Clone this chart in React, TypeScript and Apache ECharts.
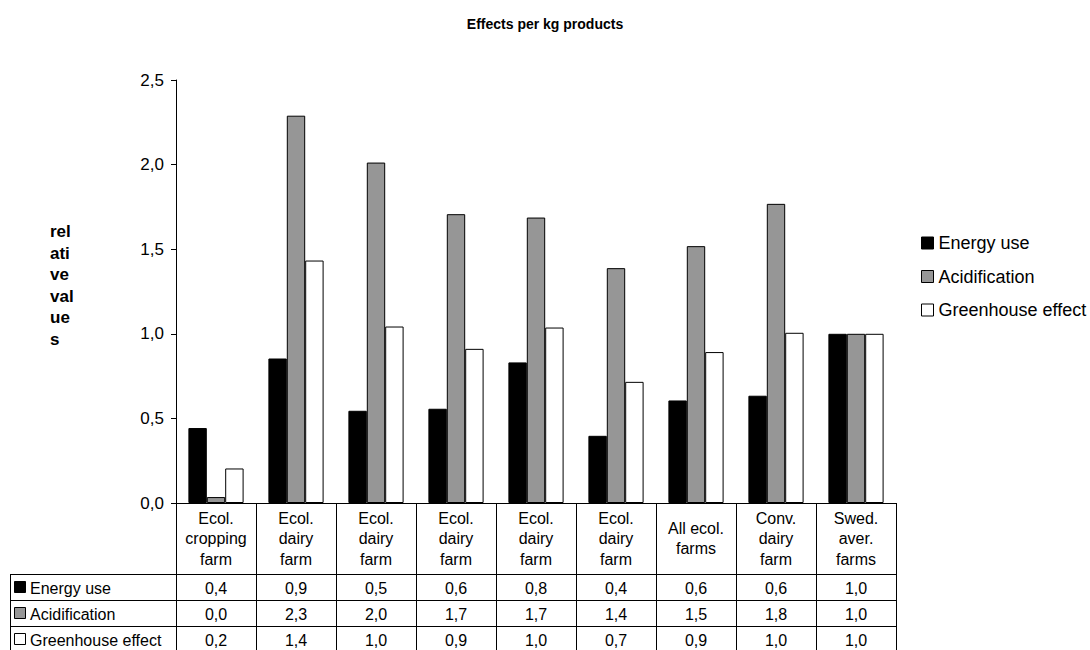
import React, { useEffect, useRef } from 'react';
import * as echarts from 'echarts';

// Farm categories (multi-line labels shown in the data table header)
const categories = [
  'Ecol.\ncropping\nfarm',
  'Ecol.\ndairy\nfarm',
  'Ecol.\ndairy\nfarm',
  'Ecol.\ndairy\nfarm',
  'Ecol.\ndairy\nfarm',
  'Ecol.\ndairy\nfarm',
  'All ecol.\nfarms',
  'Conv.\ndairy\nfarm',
  'Swed.\naver.\nfarms',
];

const seriesNames = ['Energy use', 'Acidification', 'Greenhouse effect'];

// Relative values per kg product (Swedish average = 1)
const energyUse = [0.443, 0.854, 0.545, 0.557, 0.831, 0.397, 0.606, 0.634, 1.0];
const acidification = [0.035, 2.289, 2.012, 1.707, 1.687, 1.388, 1.518, 1.768, 1.0];
const greenhouseEffect = [0.204, 1.433, 1.043, 0.911, 1.037, 0.716, 0.892, 1.006, 1.0];

// Value axis range
const yMin = 0;
const yMax = 2.5;
const yInterval = 0.5;

const seriesFills = ['#000000', '#969696', '#ffffff'];
const FONT = '"Liberation Sans", Arial, sans-serif';

const fmt = (v: number) => v.toFixed(1).replace('.', ',');

export default function App() {
  const ref = useRef<HTMLDivElement>(null);

  useEffect(() => {
    document.body.style.margin = '0';
    const chart = echarts.init(ref.current!, null, { renderer: 'svg' });

    const gridLeft = 176;
    const gridRight = 194;
    const gridTop = 80;
    const gridBottom = 147;
    const axisY = 650 - gridBottom;
    const headerH = 71;
    const rowH = 26;
    const tableBottom = axisY + headerH + rowH * 3;
    const tableLeft = 10;
    const tableRight = 1090 - gridRight;

    const seriesData = [energyUse, acidification, greenhouseEffect];

    chart.setOption({
      animation: false,
      backgroundColor: '#ffffff',
      textStyle: { fontFamily: FONT, color: '#000' },
      title: {
        text: 'Effects per kg products',
        left: 'center',
        top: 12,
        textStyle: { fontFamily: FONT, fontSize: 14, fontWeight: 'bold', color: '#000' },
      },
      legend: {
        orient: 'vertical',
        left: 916,
        top: 229,
        itemWidth: 12,
        itemHeight: 12,
        itemGap: 15.5,
        icon: 'rect',
        data: seriesNames,
        textStyle: { fontFamily: FONT, fontSize: 18, color: '#000', lineHeight: 18 },
        itemStyle: { borderColor: '#000', borderWidth: 1 },
      },
      grid: { left: gridLeft, right: gridRight, top: gridTop, bottom: gridBottom, containLabel: false },
      xAxis: {
        type: 'category',
        data: categories,
        boundaryGap: true,
        axisLine: { show: true, lineStyle: { color: '#000', width: 1 } },
        axisTick: {
          show: true,
          interval: 0,
          alignWithLabel: false,
          length: tableBottom - axisY,
          lineStyle: { color: '#000', width: 1 },
        },
        axisLabel: {
          interval: 0,
          fontFamily: FONT,
          fontSize: 16,
          lineHeight: 20.5,
          color: '#000',
          margin: headerH / 2,
          verticalAlign: 'middle',
          align: 'center',
        },
        splitLine: { show: false },
      },
      yAxis: {
        type: 'value',
        min: yMin,
        max: yMax,
        interval: yInterval,
        axisLine: { show: true, lineStyle: { color: '#000', width: 1 } },
        axisTick: { show: true, length: 5, lineStyle: { color: '#000' } },
        axisLabel: {
          fontFamily: FONT,
          fontSize: 17,
          color: '#000',
          margin: 12,
          formatter: (v: number) => fmt(v),
        },
        splitLine: { show: false },
      },
      series: seriesNames.map((name, s) => ({
        name,
        type: 'bar',
        data: seriesData[s],
        barGap: '0%',
        barCategoryGap: '31%',
        itemStyle: { color: seriesFills[s], borderColor: '#000', borderWidth: 1 },
      })),
    });

    const graphics: any[] = [];

    // Y axis title, wrapped as in the source
    graphics.push({
      type: 'text',
      x: 50,
      y: 221,
      style: {
        text: 'rel\nati\nve\nval\nue\ns',
        font: `bold 17px ${FONT}`,
        lineHeight: 21.5,
        fill: '#000',
        align: 'left',
        verticalAlign: 'top',
      },
    });

    // Data table grid lines
    for (let r = 0; r < 3; r++) {
      const y = Math.round(axisY + headerH + r * rowH) + 0.5;
      graphics.push({
        type: 'line',
        shape: { x1: tableLeft, y1: y, x2: tableRight, y2: y },
        style: { stroke: '#000', lineWidth: 1 },
      });
    }
    graphics.push({
      type: 'line',
      shape: { x1: tableLeft + 0.5, y1: axisY + headerH, x2: tableLeft + 0.5, y2: tableBottom },
      style: { stroke: '#000', lineWidth: 1 },
    });

    // Row headers with legend keys
    seriesNames.forEach((name, r) => {
      const cy = axisY + headerH + r * rowH + rowH / 2;
      graphics.push({
        type: 'rect',
        shape: { x: 14.5, y: Math.round(cy - 6) + 0.5, width: 11, height: 11 },
        style: { fill: seriesFills[r], stroke: '#000', lineWidth: 1 },
      });
      graphics.push({
        type: 'text',
        x: 30,
        y: cy + 1,
        style: {
          text: name,
          font: `16px ${FONT}`,
          fill: '#000',
          align: 'left',
          verticalAlign: 'middle',
        },
      });
    });

    // Table values, placed under each category
    categories.forEach((_, i) => {
      const cx = chart.convertToPixel({ xAxisIndex: 0 }, i) as number;
      seriesData.forEach((vals, r) => {
        const cy = axisY + headerH + r * rowH + rowH / 2;
        graphics.push({
          type: 'text',
          x: cx,
          y: cy + 1,
          style: {
            text: fmt(vals[i]),
            font: `16px ${FONT}`,
            fill: '#000',
            align: 'center',
            verticalAlign: 'middle',
          },
        });
      });
    });

    chart.setOption({ graphic: graphics });

    return () => chart.dispose();
  }, []);

  return <div ref={ref} style={{ width: 1090, height: 650 }} />;
}
